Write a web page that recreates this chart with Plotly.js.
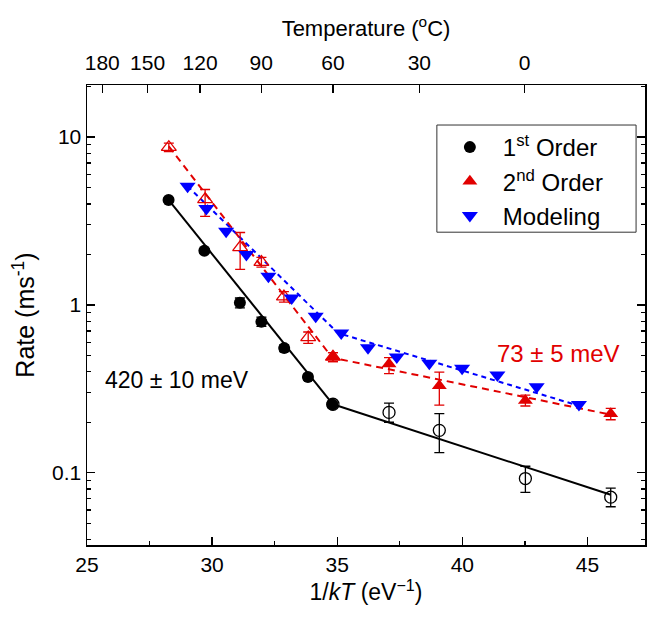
<!DOCTYPE html>
<html>
<head>
<meta charset="utf-8">
<script src="https://cdn.plot.ly/plotly-3.0.1.min.js"></script>
<style>html,body{margin:0;padding:0;background:#fff}#chart{width:651px;height:617px}</style>
</head>
<body>
<div id="chart"></div>
<script>
// 1st order (filled circles)
var firstFilledX = [28.26, 29.69, 31.11, 31.97, 32.88, 33.83, 34.80];
var firstFilledY = [4.22, 2.10, 1.03, 0.795, 0.553, 0.372, 0.255];
var firstFilledErr = [0.12, 0.07, 0.07, 0.05, 0.025, 0.015, 0.01];
// 1st order (open circles)
var firstOpenX = [34.83, 37.07, 39.08, 42.52, 45.93];
var firstOpenY = [0.256, 0.229, 0.179, 0.0924, 0.0716];
var firstOpenErrPlus = [0.008, 0.031, 0.046, 0.017, 0.0095];
var firstOpenErrMinus = [0.008, 0.029, 0.047, 0.016, 0.0088];
// 2nd order (open triangles)
var secondOpenX = [28.27, 29.72, 31.12, 31.97, 32.87, 33.84, 34.83];
var secondOpenY = [8.7, 4.25, 2.2, 1.8, 1.12, 0.64, 0.49];
var secondOpenErrPlus = [0.5, 0.62, 0.5, 0.12, 0.08, 0.05, 0.03];
var secondOpenErrMinus = [0.5, 0.88, 0.57, 0.12, 0.08, 0.05, 0.03];
// 2nd order (filled triangles)
var secondFilledX = [34.83, 37.07, 39.08, 42.52, 45.93];
var secondFilledY = [0.49, 0.445, 0.33, 0.27, 0.225];
var secondFilledErrPlus = [0.03, 0.04, 0.068, 0.02, 0.017];
var secondFilledErrMinus = [0.03, 0.055, 0.077, 0.02, 0.018];
// Modeling
var modelX = [29.02, 29.77, 30.56, 31.37, 32.25, 33.18, 34.14, 35.16, 36.23, 37.38, 38.68, 39.99, 41.40, 42.97, 44.66];
var modelY = [5.1, 3.75, 2.75, 2.0, 1.48, 1.1, 0.855, 0.68, 0.555, 0.49, 0.45, 0.42, 0.383, 0.325, 0.255];
// Fit lines
var fitHighX = [28.26, 34.83];
var fitHighY = [4.22, 0.256];
var fitLowX = [34.83, 45.93];
var fitLowY = [0.256, 0.074];
var fitRedX = [28.27, 34.80, 45.93];
var fitRedY = [8.8, 0.485, 0.222];
var fitBlueX = [29.02, 35.03, 44.69];
var fitBlueY = [5.1, 0.68, 0.25];
// Top axis (temperature)
var tempLabels = ['180', '150', '120', '90', '60', '30', '0'];
var tempPositions = [25.61, 27.42, 29.52, 31.96, 34.83, 38.28, 42.49];
// Axis ticks
var xTickVals = [25, 30, 35, 40, 45];
var yTickVals = [0.1, 1, 10];
var yTickText = ['0.1', '1', '10'];

var RED = 'rgb(225,0,0)';
var BLUE = 'rgb(0,0,255)';
var FONT = 'Liberation Sans, Arial, sans-serif';

var traces = [
  {x: fitHighX, y: fitHighY, mode: 'lines', line: {color: 'black', width: 2}, showlegend: false, hoverinfo: 'skip'},
  {x: fitLowX, y: fitLowY, mode: 'lines', line: {color: 'black', width: 2}, showlegend: false, hoverinfo: 'skip'},
  {x: fitRedX, y: fitRedY, mode: 'lines', line: {color: RED, width: 2, dash: '7px,5px'}, showlegend: false, hoverinfo: 'skip'},
  {x: fitBlueX, y: fitBlueY, mode: 'lines', line: {color: BLUE, width: 2, dash: '5px,4px'}, showlegend: false, hoverinfo: 'skip'},
  {x: secondOpenX, y: secondOpenY, mode: 'markers', showlegend: false,
   marker: {symbol: 'triangle-up-open', size: 13, color: RED, line: {width: 1.3, color: RED}},
   error_y: {type: 'data', symmetric: false, array: secondOpenErrPlus, arrayminus: secondOpenErrMinus, color: RED, thickness: 1.3, width: 5}},
  {x: secondFilledX, y: secondFilledY, mode: 'markers', name: '2<sup>nd</sup> Order', legendrank: 2,
   marker: {symbol: 'triangle-up', size: 13, color: RED},
   error_y: {type: 'data', symmetric: false, array: secondFilledErrPlus, arrayminus: secondFilledErrMinus, color: RED, thickness: 1.3, width: 5}},
  {x: modelX, y: modelY, mode: 'markers', name: 'Modeling', legendrank: 3,
   marker: {symbol: 'triangle-down', size: 14, color: BLUE}},
  {x: firstOpenX, y: firstOpenY, mode: 'markers', showlegend: false,
   marker: {symbol: 'circle-open', size: 12, color: 'black', line: {width: 1.3, color: 'black'}},
   error_y: {type: 'data', symmetric: false, array: firstOpenErrPlus, arrayminus: firstOpenErrMinus, color: 'black', thickness: 1.3, width: 5}},
  {x: firstFilledX, y: firstFilledY, mode: 'markers', name: '1<sup>st</sup> Order', legendrank: 1,
   marker: {symbol: 'circle', size: 12, color: 'black'},
   error_y: {type: 'data', array: firstFilledErr, color: 'black', thickness: 1.3, width: 5}},
  {x: [tempPositions[0]], y: [1], xaxis: 'x2', mode: 'markers', marker: {opacity: 0}, showlegend: false, hoverinfo: 'skip'}
];

var layout = {
  width: 651, height: 617,
  margin: {l: 87, r: 6, t: 85, b: 72},
  paper_bgcolor: 'white', plot_bgcolor: 'white',
  font: {family: FONT, size: 21, color: 'black'},
  showlegend: true,
  legend: {x: 0.627, y: 0.913, xanchor: 'left', yanchor: 'top', bgcolor: 'rgba(0,0,0,0)',
    borderwidth: 0, font: {family: FONT, size: 24, color: 'black'},
    traceorder: 'normal', itemwidth: 56, tracegroupgap: 0},
  shapes: [
    {type: 'rect', xref: 'paper', yref: 'paper', x0: 0.627, x1: 0.984, y0: 0.68, y1: 0.913,
     line: {color: '#333', width: 1}, fillcolor: 'white', layer: 'above'}
  ],
  xaxis: {
    range: [25, 47.3], showgrid: false, zeroline: false, showline: true, linecolor: 'black', linewidth: 1.5,
    tickmode: 'array', tickvals: xTickVals, ticks: 'inside', ticklen: 8, tickwidth: 1.3, tickcolor: 'black',
    minor: {ticks: 'inside', ticklen: 4, tickwidth: 1.3, tickcolor: 'black', dtick: 2.5, tick0: 25, showgrid: false},
    tickfont: {size: 21},
    title: {text: '1/<i>kT</i> (eV<sup>\u22121</sup>)', font: {size: 23}, standoff: 8}
  },
  xaxis2: {
    overlaying: 'x', side: 'top', range: [25, 47.3], showgrid: false, zeroline: false, showline: true,
    linecolor: 'black', linewidth: 1.5,
    tickmode: 'array', tickvals: tempPositions, ticktext: tempLabels, ticks: 'inside', ticklen: 8, tickwidth: 1.3, tickcolor: 'black',
    tickfont: {size: 21}, ticklabelstandoff: 5,
    title: {text: 'Temperature (<sup>o</sup>C)', font: {size: 22}, standoff: 8}
  },
  yaxis: {
    type: 'log', range: [-1.43, 1.31], showgrid: false, zeroline: false, showline: true, linecolor: 'black', linewidth: 1.5,
    mirror: 'ticks', tickmode: 'array', tickvals: yTickVals, ticktext: yTickText,
    ticks: 'inside', ticklen: 8, tickwidth: 1.3, tickcolor: 'black',
    minor: {ticks: 'inside', ticklen: 4, tickwidth: 1.3, tickcolor: 'black', dtick: 'D1', showgrid: false},
    tickfont: {size: 21},
    title: {text: 'Rate (ms<sup>-1</sup>)', font: {size: 25}, standoff: 10}
  },
  annotations: [
    {x: 28.6, y: -0.446, xref: 'x', yref: 'y', text: '420 \u00b1 10 meV', showarrow: false, font: {size: 23, color: 'black'}},
    {x: 43.84, y: -0.292, xref: 'x', yref: 'y', text: '73 \u00b1 5 meV', showarrow: false, font: {size: 24, color: RED}}
  ]
};

Plotly.newPlot('chart', traces, layout, {displayModeBar: false, staticPlot: true});
</script>
</body>
</html>
